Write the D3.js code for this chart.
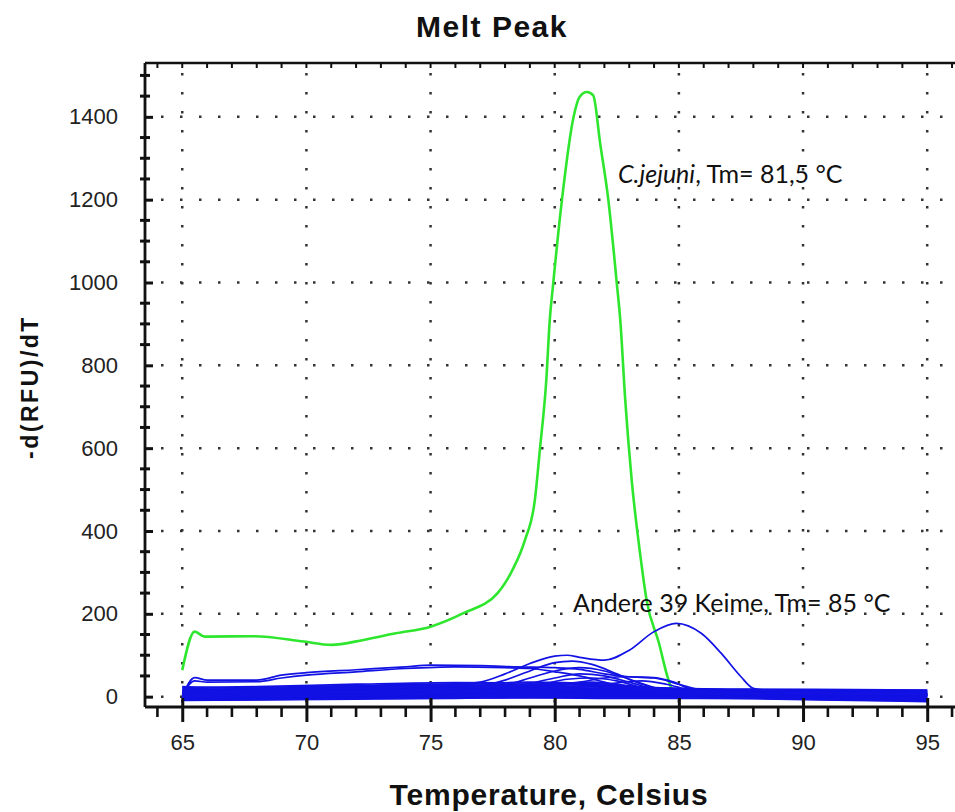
<!DOCTYPE html>
<html>
<head>
<meta charset="utf-8">
<script src="https://cdn.jsdelivr.net/npm/d3@7"></script>
<style>
  body { margin: 0; background: #fff; }
  svg { display: block; }
</style>
</head>
<body>
<div id="chart"></div>
<script>
// tick labels
const xTicks = [65, 70, 75, 80, 85, 90, 95]
const yTicks = [0, 200, 400, 600, 800, 1000, 1200, 1400]

// C. jejuni melt peak (temperature, -d(RFU)/dT)
const jejuniTemp = [65, 65.5, 65.9, 67.9, 69.9, 71, 72.3, 73.6, 75, 76.3, 77.7, 78.3, 78.8, 79.2, 79.4, 79.66, 79.8, 79.94, 80.29, 80.76, 81.0, 81.3, 81.55, 81.83, 82.16, 82.5, 82.64, 82.84, 83.1, 83.45, 83.7, 84.2, 84.5, 84.7, 85, 90, 95]
const jejuniVal = [64, 157, 145, 146, 133, 125, 137, 153, 169, 201, 250, 306, 378, 475, 595, 764, 909, 998, 1199, 1400, 1448, 1460, 1452, 1336, 1199, 998, 909, 716, 523, 340, 233, 129, 57, 21, 10, 8, 8]

// other 39 organisms: the curves that stand out of the band
const curveHigh1 = [[65, 0], [65.5, 46], [66, 40], [68, 40], [69, 52], [70, 58], [72, 65], [74, 72], [75, 76], [77, 75], [78.5, 72], [80, 70], [81, 66], [82, 55], [83, 48], [84, 45], [85, 30], [86, 15], [88, 8], [95, 5]]
const curveHigh2 = [[65, 5], [65.5, 38], [66, 35], [68, 36], [69, 45], [70, 52], [72, 60], [74, 68], [76, 72], [78, 70], [79, 68], [80, 60], [81, 50], [82, 35], [83, 20], [85, 10], [95, 5]]
const curveDouble = [[65, 10], [70, 18], [75, 25], [77, 35], [78, 55], [79, 80], [80, 98], [80.5, 100], [81, 95], [82, 88], [83, 112], [84, 157], [84.9, 177], [85.9, 153], [86.7, 105], [87.5, 48], [88, 20], [89, 12], [95, 8]]
const curvePeakA = [[65, 8], [70, 12], [75, 18], [77, 25], [78, 40], [79, 62], [80, 82], [80.7, 86], [81.5, 78], [82.5, 55], [83.5, 30], [84.5, 15], [86, 8], [95, 5]]
const curvePeakB = [[65, 5], [72, 12], [76, 18], [78, 28], [79, 45], [80, 62], [81, 70], [82, 62], [83, 42], [84, 22], [85, 12], [95, 6]]
const curvePeakC = [[65, 2], [72, 10], [77, 15], [78.5, 25], [80, 45], [81, 55], [82, 50], [83, 35], [84, 18], [85, 10], [95, 4]]
const curvePeakD = [[65, 0], [75, 12], [78, 18], [79.5, 30], [80.5, 42], [81.5, 45], [82.5, 38], [83.5, 22], [85, 10], [95, 3]]
const curvePeakE = [[65, -2], [75, 8], [79, 18], [80.5, 30], [81.5, 35], [82.5, 30], [84, 15], [85.5, 6], [95, 2]]
const curvePlateau = [[65, 6], [75, 18], [79, 25], [81, 35], [82, 45], [83, 48], [84, 46], [84.8, 35], [85.5, 18], [87, 8], [95, 4]]
const curveLate = [[65, 4], [75, 15], [80, 22], [82, 30], [83.5, 38], [84.5, 30], [85.5, 15], [87, 8], [95, 5]]

// the dense band near zero
const bandTemp = [65, 68, 72, 76, 79, 82, 85, 88, 92, 95]
const bandVals = [
  [22, 24, 30, 34, 33, 28, 20, 18, 17, 16],
  [20, 22, 27, 31, 30, 26, 19, 17, 16, 15],
  [24, 20, 25, 29, 35, 30, 18, 16, 15, 14],
  [17, 19, 23, 27, 26, 24, 17, 15, 14, 13],
  [15, 18, 21, 25, 28, 22, 16, 14, 13, 12],
  [14, 16, 19, 23, 22, 20, 15, 13, 12, 11],
  [12, 15, 18, 21, 24, 19, 14, 12, 11, 10],
  [11, 13, 16, 20, 19, 17, 13, 12, 10, 9],
  [10, 12, 15, 18, 20, 16, 12, 11, 9, 8],
  [9, 11, 13, 16, 16, 15, 11, 10, 8, 7],
  [8, 10, 12, 15, 17, 14, 10, 9, 7, 6],
  [7, 9, 11, 13, 14, 13, 9, 8, 6, 5],
  [6, 8, 10, 12, 13, 12, 9, 7, 5, 4],
  [5, 7, 9, 11, 11, 11, 8, 7, 4, 3],
  [4, 6, 8, 10, 12, 10, 7, 6, 3, 2],
  [3, 5, 7, 9, 9, 9, 6, 5, 3, 1],
  [2, 4, 6, 8, 10, 8, 6, 5, 2, 0],
  [1, 3, 5, 7, 7, 7, 5, 4, 1, -1],
  [0, 2, 4, 6, 8, 6, 4, 3, 0, -2],
  [-1, 1, 3, 5, 5, 5, 4, 3, -1, -3],
  [-2, 0, 2, 4, 6, 4, 3, 2, -2, -4],
  [-3, -1, 1, 3, 3, 3, 2, 1, -3, -5],
  [-4, -2, 0, 2, 4, 2, 1, 0, -4, -6],
  [-5, -3, -1, 1, 1, 1, 1, 0, -4, -7],
  [-6, -4, -2, 0, 2, 0, 0, -1, -5, -8],
  [-7, -5, -3, -1, -1, -1, -1, -2, -6, -9],
  [-8, -6, -4, -2, 0, -2, -2, -3, -7, -10],
  [-8, -7, -5, -3, -3, -3, -3, -4, -8, -11],
  [-9, -8, -6, -4, -2, -4, -4, -5, -9, -12]
]

//BOX
const w = 955
const h = 812
const mLeft = 145, mTop = 63, mBottom = 707, mRight = 957

const x = d3.scaleLinear().domain([63.5, 96.2]).range([mLeft, mRight])
const y = d3.scaleLinear().domain([-25, 1530]).range([mBottom, mTop])

const svg = d3.select('#chart').append('svg')
  .attr('width', w)
  .attr('height', h)

svg.append('clipPath')
  .attr('id', 'plot-area')
  .append('rect')
  .attr('x', mLeft)
  .attr('y', mTop)
  .attr('width', mRight - mLeft)
  .attr('height', mBottom - mTop)

//GRID (dotted)
const grid = svg.append('g')
  .attr('stroke', '#333')
  .attr('stroke-width', 2.5)
  .attr('stroke-dasharray', '2.5,16.5')

grid.selectAll('.hgrid')
  .data(yTicks)
  .enter()
  .append('line')
  .attr('x1', mLeft + 16).attr('x2', w)
  .attr('y1', d => y(d)).attr('y2', d => y(d))

grid.selectAll('.vgrid')
  .data(xTicks)
  .enter()
  .append('line')
  .attr('x1', d => x(d)).attr('x2', d => x(d))
  .attr('y1', mTop + 10).attr('y2', mBottom)

//CURVES
const line = d3.line()
  .x(d => x(d[0]))
  .y(d => y(d[1]))
  .curve(d3.curveMonotoneX)

const plot = svg.append('g').attr('clip-path', 'url(#plot-area)')

plot.append('path')
  .datum(jejuniTemp.map((t, i) => [t, jejuniVal[i]]))
  .attr('fill', 'none')
  .attr('stroke', '#2ee62e')
  .attr('stroke-width', 2.6)
  .attr('d', line)

const bandCurves = bandVals.map(vals => vals.map((v, i) => [bandTemp[i], v]))
const blueCurves = bandCurves.concat([curveLate, curvePlateau, curvePeakE, curvePeakD, curvePeakC,
  curvePeakB, curvePeakA, curveHigh2, curveHigh1, curveDouble])

plot.selectAll('.blue')
  .data(blueCurves)
  .enter()
  .append('path')
  .attr('class', 'blue')
  .attr('fill', 'none')
  .attr('stroke', 'rgb(18,18,228)')
  .attr('stroke-width', 1.7)
  .attr('d', line)

//AXES
const axisColor = '#111'
const fontTick = '22px "Liberation Sans", Arial, sans-serif'

// frame top
svg.append('line')
  .attr('x1', mLeft).attr('x2', w)
  .attr('y1', mTop).attr('y2', mTop)
  .attr('stroke', axisColor).attr('stroke-width', 2.6)

svg.selectAll('.topTick')
  .data(d3.range(64, 97))
  .enter()
  .append('line')
  .attr('x1', d => x(d)).attr('x2', d => x(d))
  .attr('y1', mTop).attr('y2', mTop + 5)
  .attr('stroke', axisColor).attr('stroke-width', 2)

// left axis
const yaxis = svg.append('g')
  .attr('transform', `translate(${mLeft},0)`)
  .call(d3.axisLeft(y).tickValues(yTicks).tickFormat(d3.format('d'))
    .tickSize(8).tickSizeOuter(0).tickPadding(19))
yaxis.select('.domain').remove()
yaxis.selectAll('.tick line').attr('x2', 8).attr('stroke-width', 3).attr('stroke', axisColor)
yaxis.selectAll('.tick text').style('font', fontTick).attr('fill', '#222')

svg.selectAll('.yMinor')
  .data(d3.range(50, 1501, 50).filter(v => v % 200 !== 0))
  .enter()
  .append('line')
  .attr('x1', mLeft - 5).attr('x2', mLeft + 5)
  .attr('y1', d => y(d)).attr('y2', d => y(d))
  .attr('stroke', axisColor).attr('stroke-width', 3)

svg.append('line')
  .attr('x1', mLeft).attr('x2', mLeft)
  .attr('y1', mTop).attr('y2', mBottom)
  .attr('stroke', axisColor).attr('stroke-width', 2.8)

// bottom axis
const xaxis = svg.append('g')
  .attr('transform', `translate(0,${mBottom})`)
  .call(d3.axisBottom(x).tickValues(xTicks).tickSize(15).tickSizeOuter(0))
xaxis.select('.domain').remove()
xaxis.selectAll('.tick line').attr('y1', -9).attr('stroke-width', 3).attr('stroke', axisColor)
xaxis.selectAll('.tick text')
  .style('font', fontTick).attr('fill', '#222')
  .attr('y', 35).attr('dy', '0.35em')

svg.selectAll('.xMinor')
  .data(d3.range(64, 97).filter(v => v % 5 !== 0))
  .enter()
  .append('line')
  .attr('x1', d => x(d)).attr('x2', d => x(d))
  .attr('y1', mBottom).attr('y2', mBottom + 10)
  .attr('stroke', axisColor).attr('stroke-width', 2.6)

svg.append('line')
  .attr('x1', mLeft).attr('x2', w)
  .attr('y1', mBottom).attr('y2', mBottom)
  .attr('stroke', axisColor).attr('stroke-width', 2.8)

//TITLES
svg.append('text')
  .text('Melt Peak')
  .attr('x', 492).attr('y', 37)
  .attr('text-anchor', 'middle')
  .style('font', 'bold 30px "Liberation Sans", Arial, sans-serif')
  .style('letter-spacing', '1.5px')
  .attr('fill', '#111')

svg.append('text')
  .text('Temperature, Celsius')
  .attr('x', 549).attr('y', 805)
  .attr('text-anchor', 'middle')
  .style('font', 'bold 30px "Liberation Sans", Arial, sans-serif')
  .style('letter-spacing', '0.8px')
  .attr('fill', '#111')

svg.append('text')
  .text('-d(RFU)/dT')
  .attr('transform', 'translate(38,387) rotate(-90)')
  .attr('text-anchor', 'middle')
  .style('font', 'bold 23px "Liberation Sans", Arial, sans-serif')
  .style('letter-spacing', '2.5px')
  .attr('fill', '#111')

//ANNOTATIONS
const noteFont = '25px Lato, "Open Sans", sans-serif'

const note1 = svg.append('text')
  .attr('x', 618).attr('y', 183)
  .style('font', noteFont)
  .attr('fill', '#111')
note1.append('tspan').text('C.jejuni').style('font-style', 'italic')
note1.append('tspan').text(', Tm= 81,5 °C')

svg.append('text')
  .text('Andere 39 Keime, Tm= 85 °C')
  .attr('x', 573).attr('y', 612)
  .style('font', noteFont)
  .attr('fill', '#111')
</script>
</body>
</html>
